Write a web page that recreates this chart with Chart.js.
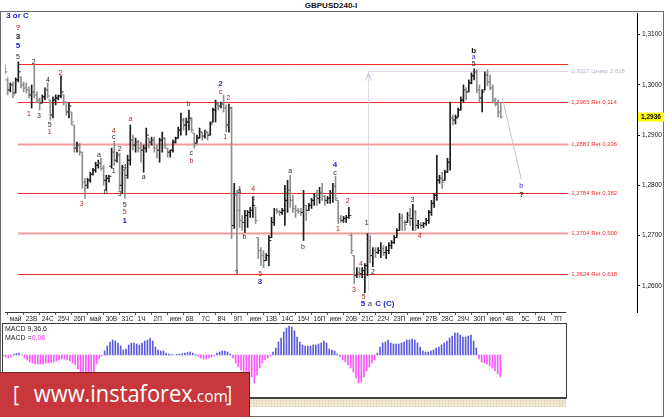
<!DOCTYPE html>
<html>
<head>
<meta charset="utf-8">
<script src="https://cdn.jsdelivr.net/npm/chart.js@4.4.1/dist/chart.umd.min.js"></script>
<style>
  html, body { margin:0; padding:0; background:#fff; }
  body { width:665px; height:417px; position:relative; overflow:hidden; font-family:'Liberation Sans', Arial, sans-serif; }
  .abs { position:absolute; }
  #frame { left:0; top:11px; width:662px; height:404px; border:1px solid #6a6a6a; }
  #title { left:0; top:1px; width:662px; text-align:center; font-weight:bold; font-size:8px; line-height:9px; color:#111; }
  #mainCanvas { left:0; top:0; }
  #macdCanvas { left:0; top:323px; }
  #macdText { left:5px; top:325px; font-size:7px; line-height:8.5px; color:#222; }
  #macdText .m { color:#ff33ff; }
  #strip { left:3px; top:399px; width:563px; height:8px; background:#efe6cf;
           background-image: radial-gradient(#d3c8a8 0.7px, transparent 0.9px); background-size:3px 3px; }
  #banner { left:0; top:372px; width:250px; height:45px; background:#c8373b;
            border-top:1px solid #7a2023; border-right:1px solid #7a2023; box-sizing:border-box; overflow:hidden; }
  #bannerText { position:absolute; left:13px; top:3px; color:#fff; white-space:nowrap; line-height:34px;
                transform:scaleX(0.91); transform-origin:0 0; font-family:'Open Sans','DejaVu Sans',sans-serif; }
  #bannerText .br { font-size:21px; }
  #bannerText .w { font-size:24px; }
  #bannerText .c { font-size:17px; }
</style>
</head>
<body>
<div id="frame" class="abs"></div>
<div id="title" class="abs">GBPUSD240-I</div>
<canvas id="mainCanvas" class="abs" width="665" height="324"></canvas>
<canvas id="macdCanvas" class="abs" width="567" height="77"></canvas>
<div id="macdText" class="abs">MACD 9,36,6<br>MACD =<span class="m">0,00</span></div>
<div id="strip" class="abs"></div>
<div id="banner" class="abs"><div id="bannerText"><span class="br" style="margin-right:16px">[</span><span class="w">www.instaforex</span><span class="c">.com</span><span class="br" style="margin-left:-2px">]</span></div></div>

<script>
// ---------------- DATA ----------------
const dateLabels = ["май","23В","24С","25Ч","26П","май","30В","31С","1Ч","2П","июн","6В","7С","8Ч","9П","июн","13В","14С","15Ч","16П","июн","20В","21С","22Ч","23П","июн","27В","28С","29Ч","30П","июл","4В","5С","6Ч","7П"];

const opens = [
1.3030,1.3010,1.2990,1.2998,1.2984,1.3010,1.3016,1.3000,1.2994,1.2990,
1.2980,1.2986,1.2980,1.2970,1.2964,1.2976,1.2990,1.2970,1.2940,1.2970,
1.2974,1.2978,1.2980,1.2966,1.2946,1.2946,1.2920,1.2874,1.2880,1.2866,
1.2806,1.2800,1.2810,1.2822,1.2830,1.2840,1.2844,1.2834,1.2810,1.2814,
1.2838,1.2866,1.2850,1.2860,1.2800,1.2830,1.2820,1.2850,1.2890,1.2880,
1.2886,1.2874,1.2870,1.2874,1.2894,1.2886,1.2890,1.2874,1.2870,1.2890,
1.2894,1.2874,1.2866,1.2870,1.2886,1.2894,1.2910,1.2930,1.2920,1.2926,
1.2930,1.2904,1.2884,1.2894,1.2906,1.2898,1.2906,1.2900,1.2926,1.2950,
1.2962,1.2958,1.2962,1.2954,1.2920,1.2954,1.2720,1.2780,1.2750,1.2730,
1.2726,1.2740,1.2746,1.2750,1.2756,1.2696,1.2670,1.2660,1.2650,1.2660,
1.2696,1.2726,1.2750,1.2748,1.2746,1.2750,1.2770,1.2790,1.2770,1.2754,
1.2750,1.2748,1.2746,1.2760,1.2750,1.2760,1.2770,1.2778,1.2774,1.2786,
1.2778,1.2770,1.2774,1.2784,1.2798,1.2770,1.2734,1.2730,1.2734,1.2736,
1.2700,1.2660,1.2620,1.2626,1.2624,1.2630,1.2640,1.2690,1.2660,1.2670,
1.2666,1.2670,1.2674,1.2666,1.2670,1.2680,1.2686,1.2696,1.2710,1.2734,
1.2726,1.2726,1.2740,1.2734,1.2746,1.2720,1.2722,1.2720,1.2724,1.2730,
1.2746,1.2764,1.2780,1.2810,1.2814,1.2810,1.2826,1.2846,1.2934,1.2930,
1.2936,1.2950,1.2970,1.2990,1.2986,1.3004,1.3018,1.3026,1.2990,1.2974,
1.2990,1.3020,1.3006,1.2994,1.2970,1.2962,1.2946];

const highs = [
1.3040,1.3014,1.3004,1.3006,1.3014,1.3046,1.3016,1.3006,1.3004,1.2996,
1.3000,1.3040,1.2986,1.2974,1.2980,1.2994,1.3004,1.2970,1.2976,1.2980,
1.2980,1.3018,1.2980,1.2966,1.2964,1.2946,1.2920,1.2886,1.2884,1.2866,
1.2814,1.2814,1.2826,1.2834,1.2846,1.2850,1.2854,1.2840,1.2820,1.2820,
1.2874,1.2888,1.2866,1.2864,1.2840,1.2834,1.2860,1.2920,1.2900,1.2894,
1.2890,1.2886,1.2880,1.2914,1.2894,1.2896,1.2896,1.2880,1.2894,1.2906,
1.2894,1.2874,1.2870,1.2890,1.2896,1.2916,1.2944,1.2934,1.2934,1.2950,
1.2934,1.2904,1.2900,1.2914,1.2906,1.2910,1.2906,1.2926,1.2954,1.2970,
1.2966,1.2966,1.2980,1.2960,1.2962,1.2956,1.2804,1.2790,1.2798,1.2740,
1.2750,1.2750,1.2756,1.2776,1.2756,1.2696,1.2676,1.2670,1.2664,1.2700,
1.2736,1.2754,1.2754,1.2750,1.2754,1.2800,1.2810,1.2820,1.2780,1.2760,
1.2754,1.2754,1.2790,1.2760,1.2764,1.2774,1.2784,1.2790,1.2796,1.2804,
1.2780,1.2778,1.2790,1.2804,1.2818,1.2770,1.2740,1.2738,1.2740,1.2756,
1.2704,1.2660,1.2636,1.2636,1.2636,1.2644,1.2704,1.2700,1.2676,1.2676,
1.2676,1.2686,1.2680,1.2678,1.2686,1.2690,1.2700,1.2714,1.2744,1.2742,
1.2730,1.2746,1.2754,1.2762,1.2750,1.2730,1.2726,1.2726,1.2734,1.2750,
1.2770,1.2784,1.2860,1.2820,1.2826,1.2830,1.2854,1.2966,1.2940,1.2940,
1.2954,1.2976,1.3000,1.2994,1.3010,1.3024,1.3032,1.3030,1.3000,1.2990,
1.3026,1.3030,1.3020,1.3000,1.2974,1.2970,1.2966];

const lows = [
1.3022,1.2980,1.2986,1.2974,1.2984,1.3006,1.2994,1.2986,1.2984,1.2974,
1.2954,1.2974,1.2964,1.2950,1.2964,1.2970,1.2974,1.2930,1.2934,1.2960,
1.2970,1.2974,1.2960,1.2940,1.2934,1.2920,1.2866,1.2866,1.2860,1.2794,
1.2774,1.2794,1.2806,1.2820,1.2826,1.2834,1.2830,1.2800,1.2790,1.2806,
1.2834,1.2840,1.2846,1.2790,1.2784,1.2774,1.2814,1.2840,1.2870,1.2866,
1.2866,1.2846,1.2826,1.2866,1.2874,1.2880,1.2866,1.2854,1.2846,1.2866,
1.2874,1.2856,1.2856,1.2866,1.2884,1.2894,1.2900,1.2910,1.2900,1.2910,
1.2906,1.2874,1.2884,1.2894,1.2890,1.2894,1.2890,1.2900,1.2926,1.2926,
1.2950,1.2954,1.2946,1.2906,1.2906,1.2694,1.2714,1.2626,1.2716,1.2710,
1.2706,1.2716,1.2736,1.2736,1.2724,1.2654,1.2640,1.2636,1.2650,1.2640,
1.2696,1.2720,1.2744,1.2740,1.2742,1.2720,1.2746,1.2756,1.2746,1.2736,
1.2744,1.2740,1.2690,1.2730,1.2750,1.2754,1.2760,1.2760,1.2764,1.2770,
1.2760,1.2764,1.2764,1.2766,1.2770,1.2724,1.2726,1.2726,1.2726,1.2734,
1.2664,1.2604,1.2616,1.2616,1.2616,1.2586,1.2620,1.2646,1.2638,1.2656,
1.2664,1.2656,1.2660,1.2654,1.2664,1.2674,1.2684,1.2696,1.2710,1.2710,
1.2710,1.2726,1.2720,1.2710,1.2710,1.2714,1.2714,1.2716,1.2720,1.2724,
1.2740,1.2756,1.2770,1.2804,1.2794,1.2810,1.2826,1.2830,1.2920,1.2922,
1.2936,1.2950,1.2966,1.2970,1.2986,1.3002,1.3010,1.2984,1.2966,1.2946,
1.2990,1.2998,1.2990,1.2964,1.2958,1.2936,1.2934];

const closes = [
1.3026,1.2990,1.3000,1.2980,1.3010,1.3026,1.3000,1.2994,1.2990,1.2980,
1.2986,1.2980,1.2970,1.2964,1.2976,1.2990,1.2978,1.2940,1.2970,1.2974,
1.2978,1.2986,1.2966,1.2946,1.2958,1.2926,1.2874,1.2880,1.2866,1.2806,
1.2800,1.2810,1.2822,1.2830,1.2840,1.2844,1.2834,1.2810,1.2814,1.2818,
1.2866,1.2850,1.2860,1.2800,1.2830,1.2814,1.2850,1.2890,1.2880,1.2886,
1.2874,1.2870,1.2874,1.2900,1.2886,1.2890,1.2874,1.2870,1.2890,1.2894,
1.2880,1.2866,1.2870,1.2886,1.2894,1.2910,1.2930,1.2920,1.2926,1.2934,
1.2910,1.2880,1.2894,1.2906,1.2898,1.2906,1.2900,1.2922,1.2950,1.2962,
1.2958,1.2962,1.2954,1.2920,1.2954,1.2720,1.2780,1.2750,1.2730,1.2726,
1.2740,1.2746,1.2750,1.2760,1.2730,1.2670,1.2660,1.2650,1.2660,1.2690,
1.2726,1.2750,1.2748,1.2746,1.2750,1.2770,1.2790,1.2770,1.2754,1.2750,
1.2748,1.2746,1.2760,1.2750,1.2760,1.2770,1.2778,1.2774,1.2786,1.2778,
1.2770,1.2774,1.2784,1.2798,1.2774,1.2734,1.2730,1.2734,1.2736,1.2740,
1.2670,1.2620,1.2626,1.2624,1.2630,1.2640,1.2690,1.2660,1.2670,1.2666,
1.2670,1.2674,1.2666,1.2670,1.2680,1.2686,1.2696,1.2710,1.2734,1.2726,
1.2722,1.2740,1.2734,1.2746,1.2720,1.2722,1.2720,1.2724,1.2730,1.2746,
1.2764,1.2780,1.2810,1.2814,1.2806,1.2826,1.2846,1.2934,1.2930,1.2934,
1.2950,1.2970,1.2990,1.2986,1.3004,1.3018,1.3026,1.2990,1.2974,1.2986,
1.3020,1.3006,1.2994,1.2970,1.2962,1.2946,1.2936];

const macdHist = [
-1,-2,-3,-2,0.5,1.5,2,0,-3,-5,
-7,-8,-9,-9,-9,-9,-8,-8,-8,-7,
-6,-5,-4,-4,-5,-6,-8,-10,-14,-17,
-20,-22,-23,-22,-17,-9,-4,-1,4,9,
13,15,14,12,9,5,6,10,12,12,
11,10,12,14,15,17,14,8,5,4,
4,2,1,0.5,0,0.5,1,1.5,2,2.5,
3,2,0.5,-1,-3,-4,-4,-3,-2,-1,
2,3,4,4,3,1,-3,-8,-12,-15,
-17,-18,-19,-22,-28,-20,-13,-8,-5,-3,
-1,3,7,13,17,23,27,29,28,24,
18,13,10,9,9,9,10,10,11,12,
14,12,6,5,4,1,-2,-5,-7,-10,
-13,-17,-23,-28,-27,-22,-16,-12,-8,-5,
2,8,12,13,15,12,11,11,11,12,
13,15,15,16,15,12,8,4,3,3,
4,5,7,8,10,12,14,17,19,22,
22,20,18,18,19,20,14,7,-4,-7,
-8,-9,-11,-13,-16,-19,-22];

const yTickValues = [1.26, 1.27, 1.28, 1.29, 1.30, 1.31];
const fibPrices = [1.3042, 1.2965, 1.2883, 1.2784, 1.2704, 1.2624];
const fibTexts  = ['', '1,2965 Ret 0,114', '1,2883 Ret 0,236', '1,2784 Ret 0,382', '1,2704 Ret 0,500', '1,2624 Ret 0,618'];
const targetPrice = 1.3027;
const targetText = '1,3027 Цнакр 2,618';
const lastPrice = 1.2936;

// wave labels: [text, bar index, price, style]
const waveLabels = [
 ["3 or C",4.7,1.3138,'B'],["?",4.9,1.3114,'R'],["3",4.9,1.3096,'K'],["5",4.9,1.3078,'B'],["5",4.9,1.3056,'k'],
 ["2",10.8,1.3046,'k'],["1",9.0,1.2942,'r'],["3",12.7,1.2938,'k'],["4",16.1,1.3010,'k'],["2",20.9,1.3024,'r'],
 ["5",16.8,1.2920,'k'],["1",16.8,1.2906,'r'],["3",28.8,1.2762,'r'],["a",35.2,1.2860,'k'],["b",37.8,1.2786,'k'],
 ["4",40.8,1.2908,'r'],["c",40.8,1.2896,'k'],["2",43.0,1.2872,'k'],["1",40.8,1.2828,'k'],["3",43.0,1.2782,'k'],
 ["4",44.9,1.2836,'k'],["5",44.9,1.2760,'k'],["5",44.9,1.2746,'r'],["1",44.9,1.2730,'B'],["a",47.1,1.2932,'r'],
 ["a",52.0,1.2816,'k'],["b",68.8,1.2962,'k'],["c",69.9,1.2864,'k'],["b",69.9,1.2848,'r'],["2",80.8,1.3002,'B'],
 ["c",80.8,1.2986,'r'],["2",83.8,1.2974,'r'],["1",82.6,1.2896,'r'],["a",87.9,1.2788,'k'],["3",86.8,1.2626,'r'],
 ["b",89.8,1.2696,'k'],["4",93.1,1.2792,'r'],["c",93.1,1.2774,'k'],["5",95.7,1.2624,'r'],["3",95.7,1.2608,'B'],
 ["a",107.0,1.2828,'k'],["b",111.8,1.2676,'k'],["4",123.8,1.2840,'B'],["c",123.8,1.2824,'k'],["1",124.9,1.2712,'r'],
 ["2",128.6,1.2768,'r'],["3",130.9,1.2592,'r'],["4",133.5,1.2644,'r'],["5",134.6,1.2578,'r'],["5",134.3,1.2564,'B'],
 ["a",136.9,1.2564,'k'],["C (C)",142.5,1.2564,'B'],["1",135.7,1.2724,'k'],["2",138.0,1.2628,'k'],["3",152.9,1.2770,'k'],
 ["4",155.6,1.2698,'r'],["b",175.8,1.3068,'K'],["a",175.8,1.3056,'b'],["5",175.8,1.3042,'k'],["b",193.7,1.2798,'b'],
 ["?",193.7,1.2782,'K']
];

// ---------------- LAYOUT / STYLE ----------------
const FONT = '"Liberation Sans", Arial, sans-serif';
Chart.defaults.font.family = FONT;
const BAR_PX = 2.674;                 // pixels per H4 bar
const MAIN_W = 634;                   // main plot width
const PANEL_W = 563;                  // macd panel width
const xMaxMain = MAIN_W / BAR_PX;
const xMaxPanel = PANEL_W / BAR_PX;
const yMin = 1.254763, yMax = 1.314323;
const anno = { fibFrom: 4.9, fibTo: 211.3, fibText: 212.4, arrowK: 136.1, arrowLow: 1.2590,
               diag: [[186.6, 1.2974], [193.7, 1.2812]] };
const softFib = [2, 4];
const waveStyle = {
  k: ['#2a2a2a', '7px ' + FONT], K: ['#111', 'bold 8px ' + FONT],
  r: ['#b02424', '7px ' + FONT], R: ['#e02020', 'bold 8px ' + FONT],
  b: ['#3434e0', '7px ' + FONT], B: ['#2323d6', 'bold 8px ' + FONT]
};

const idx = opens.map((_, k) => k);
const barColors = idx.map(k => closes[k] >= opens[k] ? '#1c1c1c' : '#8f8f8f');

const mainOverlay = {
  id: 'mainOverlay',
  beforeDatasetsDraw(chart) {
    const { ctx, scales: { x, y } } = chart;
    ctx.save();
    const x0 = x.getPixelForValue(anno.fibFrom), x1 = x.getPixelForValue(anno.fibTo);
    const xt = x.getPixelForValue(anno.fibText);
    ctx.font = '6px ' + FONT; ctx.textBaseline = 'middle'; ctx.textAlign = 'left';
    fibPrices.forEach((p, i) => {
      const py = Math.round(y.getPixelForValue(p)) + 0.5;
      ctx.beginPath();
      if (softFib.includes(i)) { ctx.strokeStyle = 'rgba(242,150,150,0.95)'; ctx.lineWidth = 2; }
      else { ctx.strokeStyle = '#ee2a2a'; ctx.lineWidth = 1; }
      ctx.moveTo(x0, py); ctx.lineTo(x1, py); ctx.stroke();
      if (fibTexts[i]) { ctx.fillStyle = '#ff2a2a'; ctx.fillText(fibTexts[i], xt, py); }
    });
    const ax = Math.round(x.getPixelForValue(anno.arrowK)) + 0.5;
    const ty = Math.round(y.getPixelForValue(targetPrice)) + 0.5;
    ctx.strokeStyle = '#b8b8d0'; ctx.lineWidth = 1; ctx.setLineDash([1, 1]);
    ctx.beginPath(); ctx.moveTo(ax, ty); ctx.lineTo(x1, ty); ctx.stroke();
    ctx.beginPath(); ctx.moveTo(ax, y.getPixelForValue(anno.arrowLow)); ctx.lineTo(ax, ty + 1); ctx.stroke();
    ctx.setLineDash([]);
    ctx.beginPath(); ctx.moveTo(ax - 3, ty + 9); ctx.lineTo(ax, ty + 2); ctx.lineTo(ax + 3, ty + 9); ctx.stroke();
    ctx.fillStyle = '#b4b4c8'; ctx.fillText(targetText, xt, ty);
    ctx.strokeStyle = '#c4c4c4';
    ctx.beginPath();
    ctx.moveTo(x.getPixelForValue(anno.diag[0][0]), y.getPixelForValue(anno.diag[0][1]));
    ctx.lineTo(x.getPixelForValue(anno.diag[1][0]), y.getPixelForValue(anno.diag[1][1]));
    ctx.stroke();
    ctx.restore();
  },
  afterDatasetsDraw(chart) {
    const { ctx, scales: { x, y } } = chart;
    ctx.save();
    ctx.textAlign = 'center'; ctx.textBaseline = 'middle';
    waveLabels.forEach(([t, k, p, s]) => {
      const st = waveStyle[s];
      ctx.fillStyle = st[0]; ctx.font = st[1];
      ctx.fillText(t, x.getPixelForValue(k), y.getPixelForValue(p));
    });
    ctx.restore();
  },
  afterDraw(chart) {
    const { ctx, chartArea, scales: { x, y } } = chart;
    ctx.save();
    ctx.strokeStyle = '#333'; ctx.lineWidth = 1;
    ctx.beginPath();
    ctx.moveTo(chartArea.left, chartArea.bottom + 0.5);
    ctx.lineTo(x.getPixelForValue(xMaxPanel), chartArea.bottom + 0.5);
    ctx.stroke();
    const py = y.getPixelForValue(lastPrice);
    ctx.fillStyle = '#ffff00';
    ctx.fillRect(chartArea.right + 1, py - 4.5, 26, 9);
    ctx.fillStyle = '#000'; ctx.font = 'bold 6.5px ' + FONT;
    ctx.textBaseline = 'middle'; ctx.textAlign = 'left';
    ctx.fillText(lastPrice.toFixed(4).replace('.', ','), chartArea.right + 4, py + 0.5);
    ctx.restore();
  }
};

new Chart(document.getElementById('mainCanvas'), {
  type: 'bar',
  data: {
    datasets: [
      { type: 'bar', data: idx.map(k => ({ x: k, y: [lows[k], highs[k]] })),
        backgroundColor: barColors, barThickness: 1, borderWidth: 0, order: 2 },
      { type: 'scatter', data: idx.map(k => ({ x: k - 0.5, y: opens[k] })),
        pointStyle: 'line', pointRadius: 1.1, pointBorderWidth: 1, pointBorderColor: barColors,
        borderColor: 'transparent', order: 1 },
      { type: 'scatter', data: idx.map(k => ({ x: k + 0.5, y: closes[k] })),
        pointStyle: 'line', pointRadius: 1.1, pointBorderWidth: 1, pointBorderColor: barColors,
        borderColor: 'transparent', order: 1 }
    ]
  },
  options: {
    responsive: false, animation: false, devicePixelRatio: 1,
    layout: { padding: { left: 3, top: 13, right: 0, bottom: 0 } },
    plugins: { legend: { display: false }, tooltip: { enabled: false } },
    events: [],
    scales: {
      x: {
        type: 'linear', min: 0, max: xMaxMain, offset: false, position: 'bottom',
        afterFit: s => { s.height = 12; },
        afterBuildTicks: s => { s.ticks = dateLabels.map((_, d) => ({ value: 1 + 6 * d })); },
        ticks: { autoSkip: false, maxRotation: 0, minRotation: 0, align: 'start', labelOffset: 2, padding: 0,
                 callback: (v, i) => dateLabels[i], font: { size: 6.5 }, color: '#222' },
        grid: { drawOnChartArea: false, drawTicks: true, tickLength: 3, color: '#555', offset: false },
        border: { display: false }
      },
      y: {
        type: 'linear', position: 'right', min: yMin, max: yMax,
        afterFit: s => { s.width = 28; },
        afterBuildTicks: s => { s.ticks = yTickValues.map(v => ({ value: v })); },
        ticks: { callback: v => v.toFixed(4).replace('.', ','), font: { size: 6.5 }, color: '#111', padding: 2 },
        grid: { drawOnChartArea: false, drawTicks: true, tickLength: 3, color: '#000' },
        border: { display: true, color: '#000', width: 1 }
      }
    }
  },
  plugins: [mainOverlay]
});

const macdFrame = {
  id: 'macdFrame',
  afterDatasetsDraw(chart) {
    const { ctx, chartArea: a } = chart;
    ctx.save();
    ctx.strokeStyle = '#3a3a3a'; ctx.lineWidth = 1;
    ctx.strokeRect(a.left - 0.5, a.top - 0.5, a.right - a.left + 1, a.bottom - a.top + 1);
    ctx.lineWidth = 2; ctx.strokeStyle = '#444';
    ctx.beginPath(); ctx.moveTo(a.left - 1, a.bottom + 1); ctx.lineTo(a.right + 1, a.bottom + 1); ctx.stroke();
    ctx.restore();
  }
};

new Chart(document.getElementById('macdCanvas'), {
  type: 'bar',
  data: {
    datasets: [{
      data: idx.map(k => ({ x: k, y: macdHist[k] })),
      backgroundColor: macdHist.map(v => v >= 0 ? '#5a5adc' : '#ff55ff'),
      barThickness: 1, borderWidth: 0
    }]
  },
  options: {
    responsive: false, animation: false, devicePixelRatio: 1, events: [],
    layout: { padding: { left: 3, top: 1, right: 1, bottom: 3 } },
    plugins: { legend: { display: false }, tooltip: { enabled: false } },
    scales: {
      x: { type: 'linear', min: 0, max: xMaxPanel, offset: false, display: false },
      y: { type: 'linear', min: -42, max: 31, display: false }
    }
  },
  plugins: [macdFrame]
});
</script>
</body>
</html>
